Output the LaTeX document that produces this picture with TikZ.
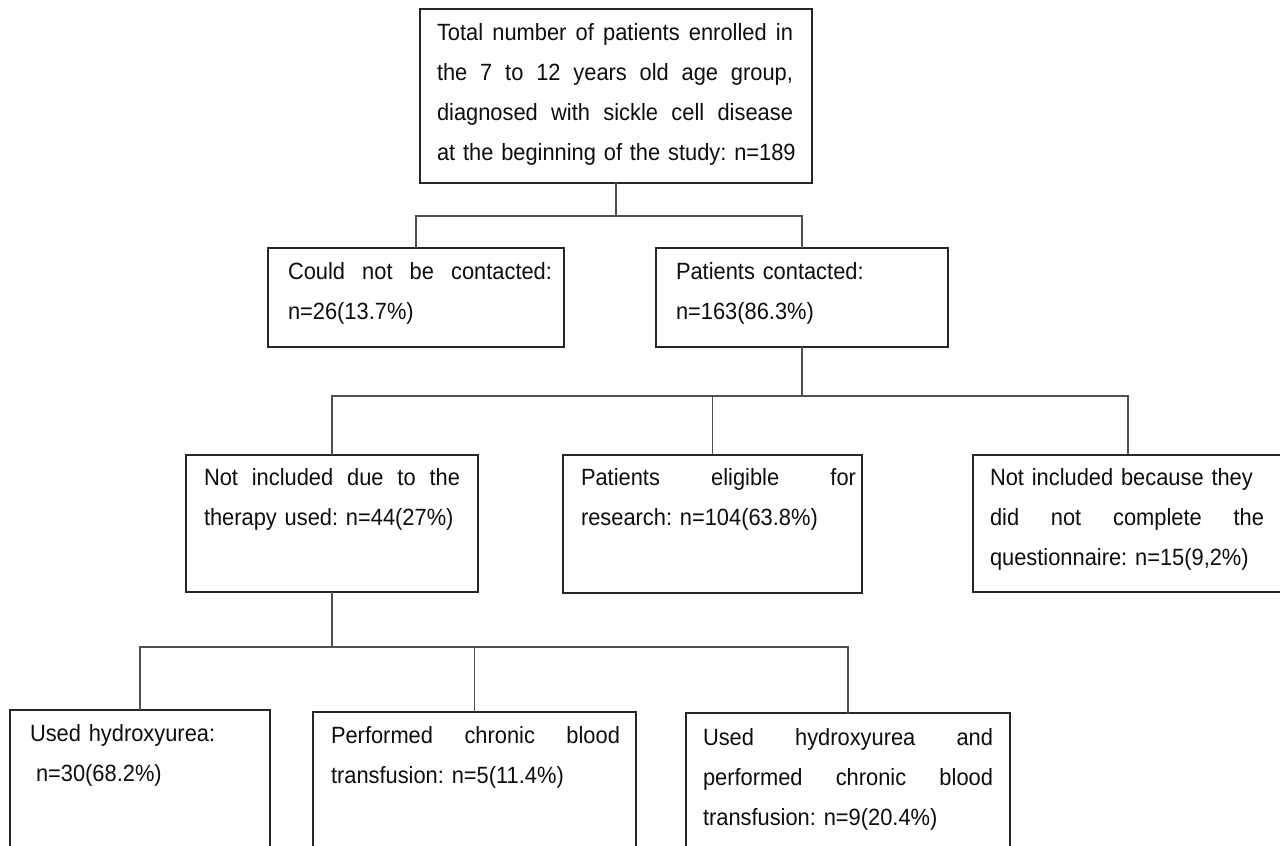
\documentclass[tikz,border=0pt]{standalone}
\usepackage{fontspec}
\setmainfont{Liberation Sans}[FakeStretch=0.93]
\usetikzlibrary{calc}
\definecolor{edgec}{HTML}{262626}
\definecolor{connc}{HTML}{505050}
\definecolor{textc}{HTML}{0E0E0E}
\newcommand\jst[2]{\leavevmode\hbox to #1{\spaceskip=0.278em plus 1fil\relax #2}}
\begin{document}
\begin{tikzpicture}[x=1pt,y=-1pt,
  box/.style={draw=edgec, line width=1.8pt, inner sep=0pt, outer sep=0pt, anchor=north west},
  txt/.style={inner sep=0pt, outer sep=0pt, anchor=base west, align=left, text width=420pt,
              font=\fontsize{23.5}{40}\selectfont\frenchspacing, text=textc},
  link/.style={draw=connc, line width=1.3pt}]
\useasboundingbox (0,0) rectangle (1280,846);
\fill[white] (0,0) rectangle (1280,846);
\begin{scope}
\clip (0,0) rectangle (1280,846);
% boxes
\node[box, minimum width=392pt, minimum height=174pt] (top) at (420,9) {};
\node[box, minimum width=296pt, minimum height=99pt] (A) at (268,248) {};
\node[box, minimum width=292pt, minimum height=99pt] (B) at (656,248) {};
\node[box, minimum width=292pt, minimum height=137pt] (C) at (186,455) {};
\node[box, minimum width=299pt, minimum height=138pt] (D) at (563,455) {};
\node[box, minimum width=310pt, minimum height=137pt] (E) at (973,455) {};
\node[box, minimum width=260pt, minimum height=170pt] (F) at (10,710) {};
\node[box, minimum width=323pt, minimum height=170pt] (G) at (313,712) {};
\node[box, minimum width=324pt, minimum height=170pt] (H) at (686,713) {};
% texts
\node[txt] (ttop) at (437,40) {\jst{356pt}{Total number of patients enrolled in}\\
  \jst{356pt}{the 7 to 12 years old age group,}\\
  \jst{356pt}{diagnosed with sickle cell disease}\\
  at the beginning of the study: n=189};
\node[txt] (tA) at (288,279) {\jst{264pt}{Could not be contacted:}\\ n=26(13.7\%)};
\node[txt] (tB) at (676,279) {Patients contacted:\\ n=163(86.3\%)};
\node[txt] (tC) at (204,485) {\jst{256pt}{Not included due to the}\\ therapy used: n=44(27\%)};
\node[txt] (tD) at (581,485) {\jst{275pt}{Patients eligible for}\\ research: n=104(63.8\%)};
\node[txt] (tE) at (990,485) {Not included because they\\ \jst{274pt}{did not complete the}\\ questionnaire: n=15(9,2\%)};
\node[txt] (tF) at (30,741) {Used hydroxyurea:\\ \hspace*{6pt}n=30(68.2\%)};
\node[txt] (tG) at (331,743) {\jst{289pt}{Performed chronic blood}\\ transfusion: n=5(11.4\%)};
\node[txt] (tH) at (703,745) {\jst{290pt}{Used hydroxyurea and}\\ \jst{290pt}{performed chronic blood}\\ transfusion: n=9(20.4\%)};
% connectors
\coordinate (j1) at ($(top.south)+(0,33)$);
\draw[link] (top.south) -- (j1);
\draw[link] (A.north) |- (j1) -| (B.north);
\coordinate (j2) at ($(B.south)+(0,49)$);
\draw[link] (B.south) -- (j2);
\draw[link] (C.north) |- (j2) -| (E.north);
\draw[link] (D.north) -- (D.north |- j2);
\coordinate (j3) at ($(C.south)+(0,55)$);
\draw[link] (C.south) -- (j3);
\draw[link] (F.north) |- (j3) -| (H.north);
\draw[link] (G.north) -- (G.north |- j3);
\end{scope}
\end{tikzpicture}
\end{document}
